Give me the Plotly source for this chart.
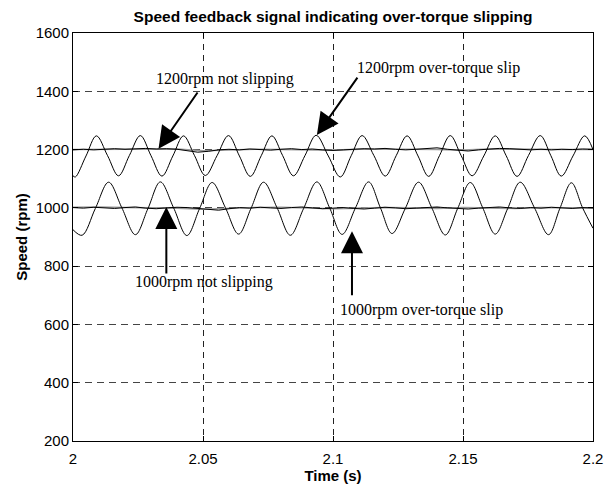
import plotly.graph_objects as go

# ---------------- data ----------------
# 1000 rpm over-torque slip oscillation (peaks / troughs / mid-crossings)
t_slip1000 = [2.0000, 2.0035, 2.0086, 2.0137, 2.0188, 2.0240, 2.0288, 2.0336, 2.0387,
              2.0438, 2.0487, 2.0535, 2.0586, 2.0637, 2.0685, 2.0733, 2.0785, 2.0836,
              2.0887, 2.0938, 2.0987, 2.1035, 2.1086, 2.1137, 2.1182, 2.1227, 2.1278,
              2.1329, 2.1380, 2.1432, 2.1480, 2.1528, 2.1576, 2.1624, 2.1672, 2.1720,
              2.1775, 2.1829, 2.1873, 2.1917, 2.1960, 2.2000]
v_slip1000 = [925, 906, 998, 1088, 1000, 908, 997, 1089, 1000,
              905, 998, 1087, 1001, 910, 999, 1088, 1000, 906,
              998, 1089, 1000, 909, 999, 1089, 1001, 912, 998,
              1088, 1000, 907, 999, 1087, 1000, 910, 998, 1088,
              1000, 908, 999, 1086, 1000, 930]

# 1200 rpm over-torque slip oscillation
t_slip1200 = [2.0000, 2.0009, 2.0050, 2.0090, 2.0133, 2.0175, 2.0217, 2.0259, 2.0300,
              2.0342, 2.0384, 2.0425, 2.0467, 2.0509, 2.0554, 2.0598, 2.0640, 2.0682,
              2.0724, 2.0765, 2.0806, 2.0848, 2.0892, 2.0935, 2.0982, 2.1028, 2.1070,
              2.1112, 2.1157, 2.1201, 2.1243, 2.1285, 2.1327, 2.1368, 2.1410, 2.1451,
              2.1493, 2.1535, 2.1580, 2.1624, 2.1666, 2.1708, 2.1752, 2.1797, 2.1838,
              2.1878, 2.1923, 2.1968, 2.2000]
v_slip1200 = [1110, 1106, 1178, 1247, 1179, 1110, 1180, 1248, 1179,
              1109, 1178, 1247, 1180, 1111, 1179, 1248, 1178, 1108,
              1179, 1247, 1180, 1110, 1179, 1249, 1178, 1106, 1179,
              1248, 1180, 1109, 1179, 1247, 1178, 1108, 1180, 1248,
              1179, 1110, 1178, 1247, 1179, 1108, 1180, 1248, 1179,
              1109, 1178, 1247, 1200]

# "not slipping" signals (sampled every 4 ms)
t_flat = [round(2.0 + 0.004 * i, 3) for i in range(51)]
v_ok1200 = [1199, 1201, 1199, 1202, 1203, 1201, 1203, 1204, 1202, 1203,
            1201, 1197, 1191, 1194, 1199, 1201, 1199, 1202, 1200, 1198,
            1201, 1203, 1200, 1202, 1199, 1197, 1199, 1201, 1203, 1202,
            1204, 1201, 1199, 1201, 1203, 1206, 1201, 1197, 1195, 1199,
            1202, 1204, 1203, 1201, 1199, 1201, 1199, 1201, 1200, 1202, 1201]
v_ok1000 = [1001, 999, 1002, 1000, 998, 1001, 1003, 999, 997, 1000,
            1002, 1001, 998, 994, 992, 997, 1001, 999, 1002, 1000,
            998, 1001, 1003, 1000, 997, 999, 1001, 998, 996, 999,
            1002, 1000, 997, 999, 1001, 1003, 1000, 998, 996, 999,
            1001, 1003, 1000, 998, 1001, 999, 1002, 1000, 998, 1001, 1000]

# reference (grey) traces, sampled every 10 ms
t_ref = [round(2.0 + 0.01 * i, 2) for i in range(21)]
v_ref1200 = [1200, 1201, 1202, 1203, 1202, 1196, 1199, 1201, 1200, 1199, 1198,
             1201, 1202, 1201, 1200, 1198, 1202, 1201, 1199, 1200, 1200]
v_ref1000 = [1002, 1003, 1001, 1000, 999, 995, 999, 1001, 1002, 1000, 997,
             999, 1001, 1000, 998, 1001, 1000, 998, 1001, 1000, 999]

x_ticks = [2.0, 2.05, 2.1, 2.15, 2.2]
x_ticktext = ["2", "2.05", "2.1", "2.15", "2.2"]
y_ticks = [200, 400, 600, 800, 1000, 1200, 1400, 1600]

labels = ["1200rpm not slipping", "1200rpm over-torque slip",
          "1000rpm not slipping", "1000rpm over-torque slip"]
label_x = [2.0586, 2.1406, 2.0505, 2.1342]
label_y = [1441, 1481, 746, 649]
arrow_tip_x = [2.0329, 2.0938, 2.0359, 2.1073]
arrow_tip_y = [1203, 1250, 1003, 920]
arrow_tail_x = [2.0483, 2.1098, 2.0359, 2.1073]
arrow_tail_y = [1401, 1452, 770, 695]

# ---------------- figure ----------------
fig = go.Figure()
grey = "#9a9a9a"
fig.add_trace(go.Scatter(x=t_ref, y=v_ref1200, mode="lines",
                         line=dict(color=grey, width=1.6), hoverinfo="skip"))
fig.add_trace(go.Scatter(x=t_ref, y=v_ref1000, mode="lines",
                         line=dict(color=grey, width=1.6), hoverinfo="skip"))
fig.add_trace(go.Scatter(x=t_flat, y=v_ok1200, mode="lines",
                         line=dict(color="black", width=1)))
fig.add_trace(go.Scatter(x=t_flat, y=v_ok1000, mode="lines",
                         line=dict(color="black", width=1)))
fig.add_trace(go.Scatter(x=t_slip1200, y=v_slip1200, mode="lines",
                         line=dict(color="black", width=1, shape="spline", smoothing=1.0)))
fig.add_trace(go.Scatter(x=t_slip1000, y=v_slip1000, mode="lines",
                         line=dict(color="black", width=1, shape="spline", smoothing=1.0)))

for txt, lx, ly in zip(labels, label_x, label_y):
    fig.add_annotation(x=lx, y=ly, xref="x", yref="y", text=txt, showarrow=False,
                       font=dict(family="Liberation Serif", size=16, color="black"))
for tx, ty, ax, ay in zip(arrow_tip_x, arrow_tip_y, arrow_tail_x, arrow_tail_y):
    fig.add_annotation(x=tx, y=ty, ax=ax, ay=ay, xref="x", yref="y",
                       axref="x", ayref="y", text="", showarrow=True,
                       arrowhead=2, arrowsize=2.2, arrowwidth=2, arrowcolor="black",
                       standoff=0, startstandoff=0)

axis_font = dict(family="Liberation Sans", size=15, color="black")
title_font = dict(family="Liberation Sans", size=15, color="black")
fig.update_layout(
    width=606, height=486,
    margin=dict(l=73, r=13, t=33, b=45),
    paper_bgcolor="white", plot_bgcolor="white",
    showlegend=False,
    title=dict(text="<b>Speed feedback signal indicating over-torque slipping</b>",
               x=(73 + 520 / 2) / 606, xanchor="center", y=1 - 16.7 / 486, yanchor="middle",
               font=dict(family="Liberation Sans", size=15.5, color="black")),
    xaxis=dict(range=[2.0, 2.2], tickvals=x_ticks, ticktext=x_ticktext,
               showline=True, linecolor="black", linewidth=1, mirror="ticks",
               ticks="inside", ticklen=5, tickcolor="black", ticklabelstandoff=4,
               showgrid=True, gridcolor="#222", gridwidth=1, griddash="6px,5px",
               zeroline=False, tickfont=axis_font, automargin=False,
               title=dict(text="<b>Time (s)</b>", standoff=2, font=title_font)),
    yaxis=dict(range=[200, 1600], tickvals=y_ticks,
               showline=True, linecolor="black", linewidth=1, mirror="ticks",
               ticks="inside", ticklen=5, tickcolor="black",
               showgrid=True, gridcolor="#444", gridwidth=1, griddash="7px,5px",
               zeroline=False, tickfont=axis_font, automargin=False,
               title=dict(text="<b>Speed (rpm)</b>", standoff=4, font=title_font)),
)

fig.write_html("out.html")
